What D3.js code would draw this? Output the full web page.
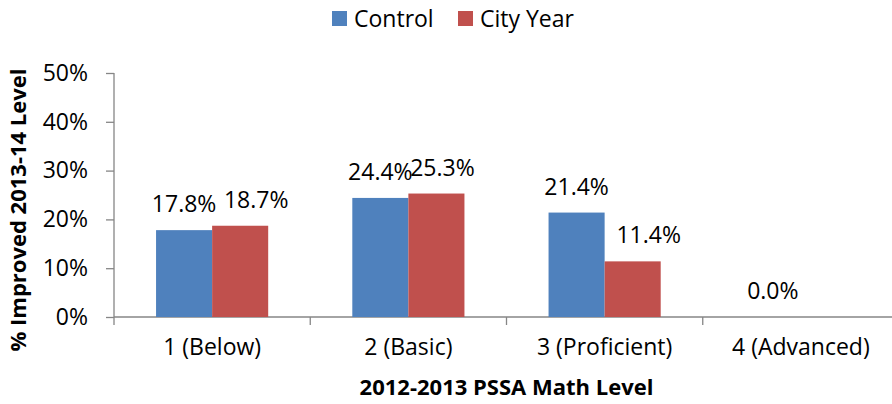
<!DOCTYPE html>
<html>
<head>
<meta charset="utf-8">
<script src="https://cdn.jsdelivr.net/npm/d3@7"></script>
<style>
  body { margin: 0; background: #fff; }
  text { font-family: "Open Sans", sans-serif; fill: #000; }
</style>
</head>
<body>
<svg width="892" height="404"></svg>
<script>
var levels = ["1 (Below)", "2 (Basic)", "3 (Proficient)", "4 (Advanced)"];
var seriesNames = ["Control", "City Year"];
var control = [17.8, 24.4, 21.4, 0.0];
var cityYear = [18.7, 25.3, 11.4, null];
var yTicks = [0, 10, 20, 30, 40, 50];
var colors = ["#4F81BD", "#C0504D"];

var svg = d3.select("svg");
var plotL = 114, plotR = 899, plotT = 73, plotB = 317;
var fs = "23px";

var x = d3.scaleBand().domain(levels).range([plotL, plotR]);
var xs = d3.scaleBand().domain(seriesNames).range([0, x.bandwidth()]).paddingOuter(0.75);
var y = d3.scaleLinear().domain([0, 50]).range([plotB, plotT]);

var rows = [];
levels.forEach(function (lev, i) {
  rows.push({ lev: lev, s: "Control", v: control[i], i: i });
  rows.push({ lev: lev, s: "City Year", v: cityYear[i], i: i });
});
var shown = rows.filter(function (d) { return d.v !== null; });

// axes
var yAxis = svg.append("g").attr("transform", "translate(" + plotL + ",0)")
  .call(d3.axisLeft(y).tickValues(yTicks).tickSize(8).tickPadding(18).tickFormat(function (d) { return d + "%"; }));
var xAxis = svg.append("g").attr("transform", "translate(0," + plotB + ")")
  .call(d3.axisBottom(x).tickSize(0).tickPadding(22));
[yAxis, xAxis].forEach(function (g) {
  g.select(".domain").attr("stroke", "#868686").attr("stroke-width", 1.3);
  g.selectAll("line").attr("stroke", "#868686").attr("stroke-width", 1.3);
  g.selectAll("text").style("font-family", "Open Sans").style("font-size", fs).attr("fill", "#000");
});
yAxis.select(".domain").attr("d", "M0," + plotT + "V" + plotB);
xAxis.select(".domain").attr("d", "M" + plotL + ",0H892");
// category boundary ticks
var bounds = levels.map(function (l) { return x(l); });
xAxis.selectAll(".btick").data(bounds).enter().append("line")
  .attr("x1", function (d) { return d; }).attr("x2", function (d) { return d; })
  .attr("y1", 0).attr("y2", 8).attr("stroke", "#868686").attr("stroke-width", 1.3);

// bars
svg.append("g").selectAll("rect").data(shown).enter().append("rect")
  .attr("x", function (d) { return x(d.lev) + xs(d.s); })
  .attr("width", xs.bandwidth())
  .attr("y", function (d) { return y(d.v); })
  .attr("height", function (d) { return plotB - y(d.v); })
  .attr("fill", function (d) { return colors[seriesNames.indexOf(d.s)]; });

// value labels (red labels sit a bit right of their bars in the original)
var nudge = function (d) {
  if (d.s !== "City Year") return 0;
  return d.i === 1 ? 6 : 16;
};
svg.append("g").selectAll("text").data(shown).enter().append("text")
  .attr("x", function (d) { return x(d.lev) + xs(d.s) + xs.bandwidth() / 2 + nudge(d); })
  .attr("y", function (d) { return y(d.v) - 18; })
  .attr("text-anchor", "middle")
  .style("font-size", fs)
  .text(function (d) { return d.v.toFixed(1) + "%"; });

// legend
var leg = svg.append("g").attr("transform", "translate(332,10)");
var legX = [0, 126];
seriesNames.forEach(function (s, i) {
  leg.append("rect").attr("x", legX[i]).attr("y", 1).attr("width", 15).attr("height", 15).attr("fill", colors[i]);
  leg.append("text").attr("x", legX[i] + 22).attr("y", 17).style("font-size", fs).text(s);
});

// axis titles
svg.append("text").attr("transform", "translate(26,210) rotate(-90)")
  .attr("text-anchor", "middle").style("font-size", "22px").style("font-weight", "bold")
  .text("% Improved 2013-14 Level");
svg.append("text").attr("x", (plotL + plotR) / 2).attr("y", 395)
  .attr("text-anchor", "middle").style("font-size", "22px").style("font-weight", "bold")
  .text("2012-2013 PSSA Math Level");
</script>
</body>
</html>
